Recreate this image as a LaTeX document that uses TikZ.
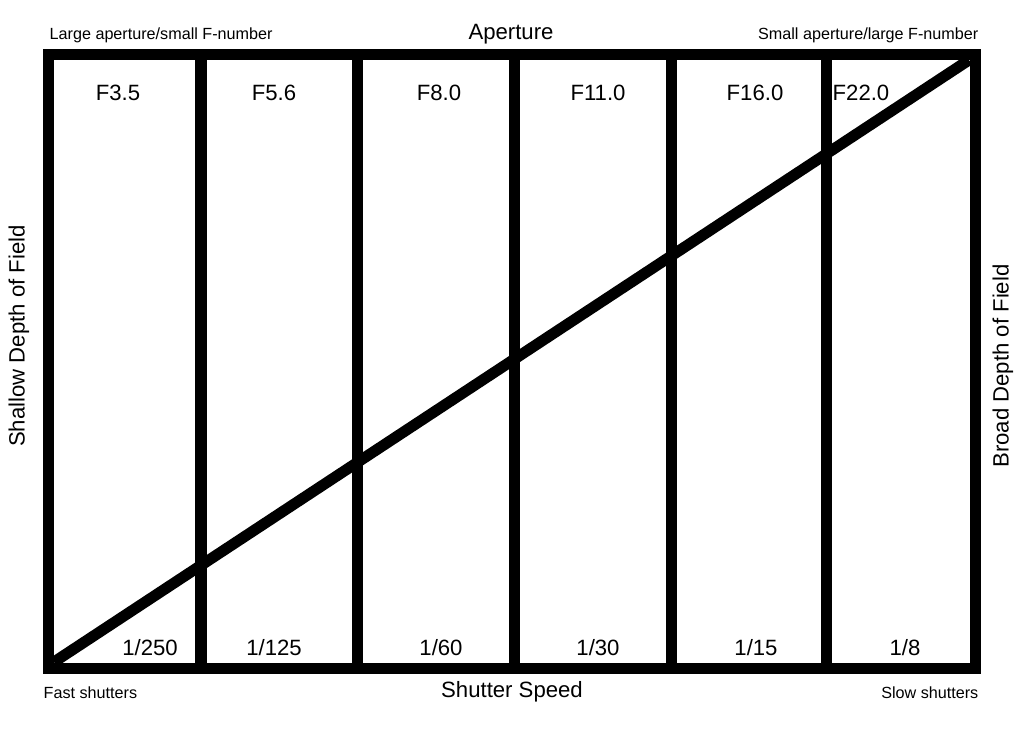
\documentclass[tikz,border=0pt]{standalone}
\usepackage{fontspec}
\setmainfont{Liberation Sans}
\usetikzlibrary{positioning}
\tikzset{
  frame/.style={line width=3.13pt,line cap=butt},
  biglbl/.style={font=\fontsize{6.3}{7}\selectfont,inner sep=0pt},
  smalllbl/.style={font=\fontsize{4.6}{5}\selectfont,inner sep=0pt}
}

\begin{document}
\begin{tikzpicture}
  \useasboundingbox (0,0) rectangle (10.24,7.32);
  % frame and aperture columns
  \draw[frame] (0.485,0.64) rectangle (9.75,6.78);
  \foreach \x/\n in {2.01/1,3.57/2,5.14/3,6.71/4,8.26/5}
    \draw[frame] (\x,0.64) -- (\x,6.78);
  % diagonal
  \coordinate (lo) at (0.54,0.70);
  \coordinate (hi) at (9.69,6.72);
  \draw[frame] (lo) -- (hi);
  % f-numbers
  \foreach \x/\t/\n in {1.18/F3.5/fa,2.74/F5.6/fb,4.39/F8.0/fc,5.98/F11.0/fd,7.55/F16.0/fe,8.61/F22.0/ff}
    \node[biglbl] (\n) at (\x,6.39) {\t};
  % shutter speeds
  \foreach \x/\t/\n in {1.50/1\slash 250/sa,2.74/1\slash 125/sb,4.41/1\slash 60/sc,5.98/1\slash 30/sd,7.56/1\slash 15/se,9.05/1\slash 8/sf}
    \node[biglbl] (\n) at (\x,0.84) {\t};
  % axis titles
  \node[biglbl,anchor=base] (aperture) at (5.11,6.93) {Aperture};
  \node[biglbl,anchor=base] (shutter) at (5.12,0.35) {Shutter Speed};
  \node[smalllbl,anchor=base west] (large) at (0.49,6.93) {Large aperture/small F-number};
  \node[smalllbl,anchor=base east] (small) at (9.79,6.93) {Small aperture/large F-number};
  \node[smalllbl,anchor=base west] (fast) at (0.43,0.34) {Fast shutters};
  \node[smalllbl,anchor=base east] (slow) at (9.79,0.34) {Slow shutters};
  \node[biglbl,rotate=90] (shallow) at (0.19,3.96) {Shallow Depth of Field};
  \node[biglbl,rotate=90] (broad) at (10.03,3.66) {Broad Depth of Field};
\end{tikzpicture}
\end{document}
